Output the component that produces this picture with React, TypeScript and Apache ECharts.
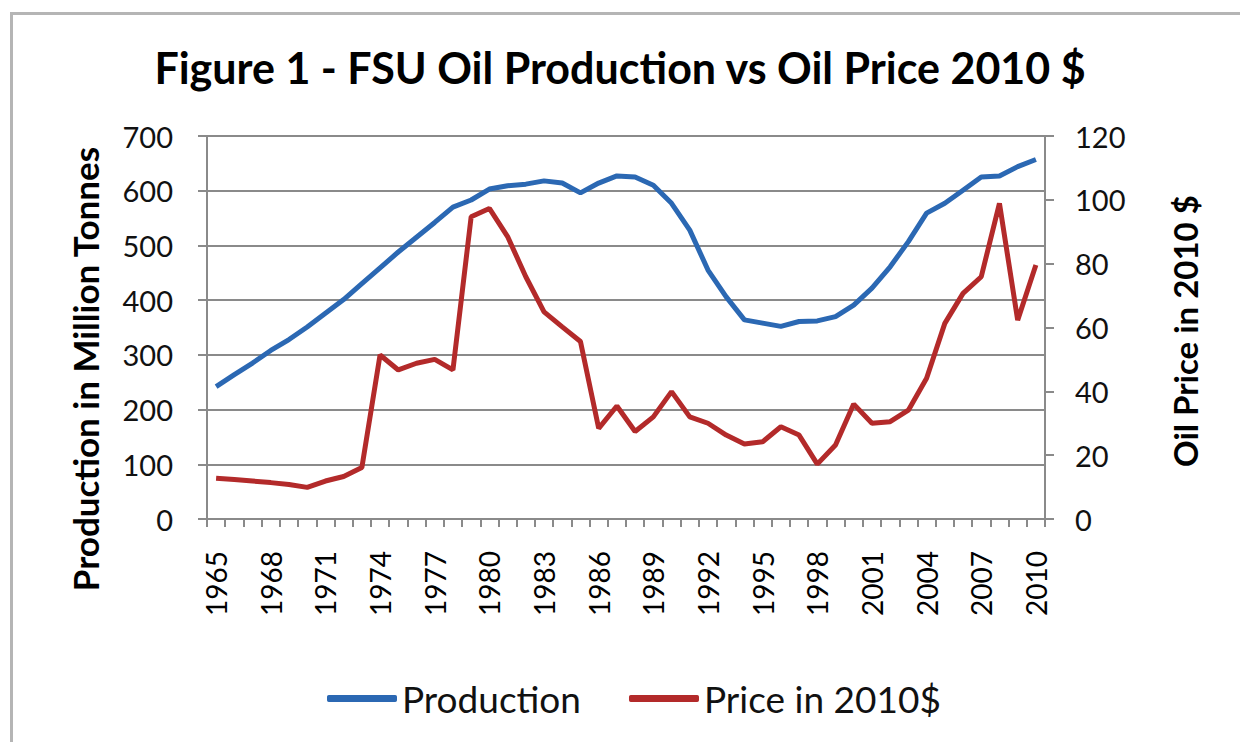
import React, { useEffect, useRef } from "react";
import * as echarts from "echarts";

const years: string[] = [];
for (let y = 1965; y <= 2010; y++) years.push(String(y));

const production: number[] = [
  242, 264, 285, 308, 328, 351, 376, 401, 430, 459,
  488, 515, 542, 570, 583, 603, 609, 612, 618, 614,
  596, 614, 627, 625, 610, 577, 528, 455, 406, 364,
  358, 352, 361, 362, 370, 391, 422, 461, 507, 559,
  577, 601, 625, 627, 644, 657,
];

const price: number[] = [
  12.8, 12.4, 11.9, 11.4, 10.8, 9.9, 11.9, 13.3, 16.1, 51.4,
  46.7, 48.8, 50.0, 46.7, 94.7, 97.3, 88.5, 75.9, 64.9, 60.2,
  55.6, 28.4, 35.4, 27.4, 32.0, 39.9, 32.0, 30.0, 26.3, 23.5,
  24.2, 28.9, 26.3, 17.2, 23.2, 36.0, 30.0, 30.5, 34.1, 44.1,
  61.3, 70.7, 75.9, 98.9, 62.3, 79.6,
];

const FONT = "Lato";
const BLUE = "#2B68B3";
const RED = "#B32A2A";
const GRID = "#8a8a8a";

export default function App() {
  const ref = useRef<HTMLDivElement>(null);
  useEffect(() => {
    if (!ref.current) return;
    const chart = echarts.init(ref.current, null, { renderer: "svg" });
    chart.setOption({
      animation: false,
      backgroundColor: "#ffffff",
      textStyle: { fontFamily: FONT },
      title: {
        text: "Figure 1 - FSU Oil Production vs Oil Price 2010 $",
        left: "center",
        top: 41,
        textStyle: { fontFamily: FONT, fontWeight: "bold", fontSize: 43, color: "#000" },
      },
      graphic: [
        {
          type: "rect",
          left: 9,
          top: 11,
          z: -10,
          shape: { width: 1260, height: 760 },
          style: { fill: "none", stroke: "#b5b5b5", lineWidth: 3 },
        },
        {
          type: "text",
          x: 85,
          y: 369,
          rotation: Math.PI / 2,
          style: {
            text: "Production in Million Tonnes",
            fontFamily: FONT,
            fontWeight: "bold",
            fontSize: 35,
            fill: "#000",
            textAlign: "center",
            textVerticalAlign: "middle",
          },
        },
        {
          type: "text",
          x: 1185,
          y: 331,
          rotation: Math.PI / 2,
          style: {
            text: "Oil Price in 2010 $",
            fontFamily: FONT,
            fontWeight: "bold",
            fontSize: 33,
            fill: "#000",
            textAlign: "center",
            textVerticalAlign: "middle",
          },
        },
      ],
      legend: {
        left: 322,
        top: 675,
        itemWidth: 70,
        itemHeight: 7,
        itemGap: 48,
        icon: "roundRect",
        textStyle: { fontFamily: FONT, fontSize: 37, color: "#111" },
        data: ["Production", "Price in 2010$"],
      },
      grid: {
        left: 207,
        right: 195,
        top: 136,
        bottom: 223,
        outerBoundsMode: "none",
        containLabel: false,
      },
      xAxis: {
        type: "category",
        data: years,
        boundaryGap: true,
        axisLine: { show: true, lineStyle: { color: GRID, width: 2 } },
        axisTick: { show: true, interval: 0, length: 8, lineStyle: { color: GRID, width: 2 } },
        axisLabel: {
          interval: 2,
          rotate: 90,
          margin: 32,
          fontFamily: FONT,
          fontSize: 28,
          color: "#000",
        },
        splitLine: { show: false },
      },
      yAxis: [
        {
          type: "value",
          min: 0,
          max: 700,
          interval: 100,
          axisLine: { show: true, lineStyle: { color: GRID, width: 2 } },
          axisTick: { show: true, length: 9, lineStyle: { color: GRID, width: 2 } },
          axisLabel: { margin: 34, fontFamily: FONT, fontSize: 29, color: "#111" },
          splitLine: { show: true, lineStyle: { color: GRID, width: 2 } },
        },
        {
          type: "value",
          min: 0,
          max: 120,
          interval: 20,
          position: "right",
          axisLine: { show: true, lineStyle: { color: GRID, width: 2 } },
          axisTick: { show: true, length: 9, lineStyle: { color: GRID, width: 2 } },
          axisLabel: { margin: 30, fontFamily: FONT, fontSize: 29, color: "#111" },
          splitLine: { show: false },
        },
      ],
      series: [
        {
          name: "Production",
          type: "line",
          yAxisIndex: 0,
          data: production,
          showSymbol: false,
          symbol: "none",
          lineStyle: { color: BLUE, width: 5 },
          itemStyle: { color: BLUE },
          z: 3,
        },
        {
          name: "Price in 2010$",
          type: "line",
          yAxisIndex: 1,
          data: price,
          showSymbol: false,
          symbol: "none",
          lineStyle: { color: RED, width: 5 },
          itemStyle: { color: RED },
          z: 2,
        },
      ],
    });
    return () => chart.dispose();
  }, []);
  return <div ref={ref} style={{ width: 1240, height: 742, position: "absolute", left: 0, top: 0 }} />;
}
